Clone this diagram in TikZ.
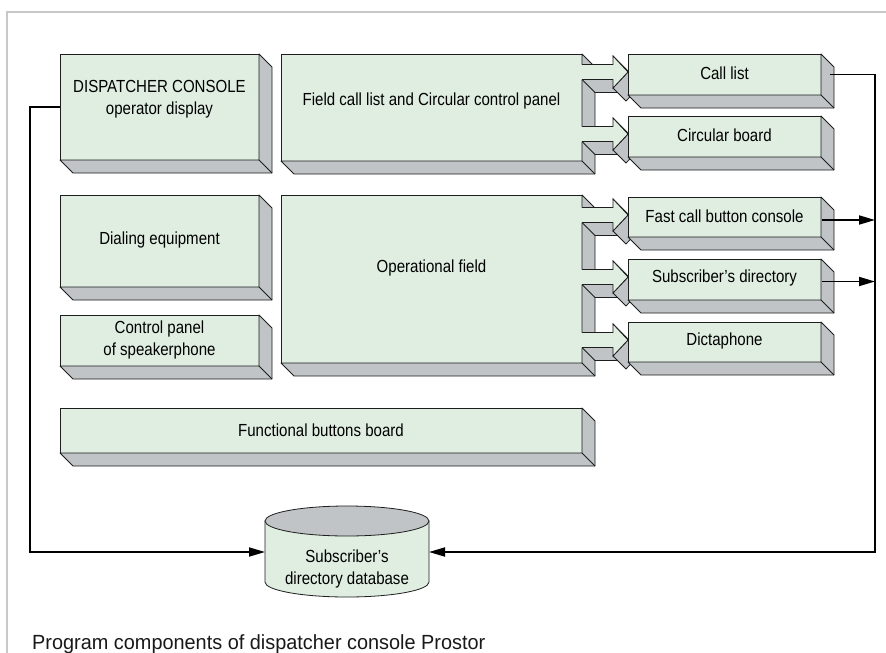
\documentclass[tikz,border=0pt]{standalone}
\usepackage{fontspec}
\setmainfont{Liberation Sans}[FakeStretch=0.86]
\newfontfamily\capfont{Liberation Sans}[FakeStretch=0.97]
\usetikzlibrary{arrows.meta,calc}
\definecolor{facec}{RGB}{224,238,226}
\definecolor{sidec}{RGB}{192,196,198}
\definecolor{edgec}{RGB}{30,30,30}
\definecolor{framec}{RGB}{200,200,200}
\tikzset{
  face/.style={fill=facec, draw=edgec, line width=0.8pt, inner sep=0pt, outer sep=0pt},
  side/.style={fill=sidec, draw=edgec, line width=0.8pt, line join=round},
  edge/.style={draw=edgec, line width=0.8pt},
  lbl/.style={font=\fontsize{17.5}{22}\selectfont, text=black, align=center, inner sep=0pt},
  caplbl/.style={font=\fontsize{20.5}{24}\selectfont\capfont, text=black!90, inner sep=0pt},
  conn/.style={draw=black, line width=1.8pt},
  tip/.style={-{Triangle[length=16pt,width=9pt]}},
}
\newcommand\tdbox[5]{%
  \node[face, anchor=north west, minimum width=#4pt, minimum height=#5pt] (#1) at (#2,#3) {};
  \path[side] (#1.north east) -- ++(13,13) -- ($(#1.south east)+(13,13)$) -- ($(#1.south west)+(13,13)$) -- (#1.south west) -- (#1.south east) -- cycle;
  \draw[edge] (#1.south east) -- ++(13,13);
}
\newcommand\busarrow[1]{%
  \path[side] (613,#1-16) -- (628,#1) -- (641,#1+13) -- (626,#1-3) -- cycle;
  \path[side] (582,#1+7.5) -- (613,#1+7.5) -- (626,#1+20.5) -- (595,#1+20.5) -- cycle;
  \path[side] (613,#1+16) -- (628,#1) -- (641,#1+13) -- (626,#1+29) -- cycle;
  \fill[facec] (578,#1-7.5) -- (613,#1-7.5) -- (613,#1-16) -- (628,#1) -- (613,#1+16) -- (613,#1+7.5) -- (578,#1+7.5) -- cycle;
  \draw[edge] (582,#1-7.5) -- (613,#1-7.5) -- (613,#1-16) -- (628,#1) -- (613,#1+16) -- (613,#1+7.5) -- (582,#1+7.5);
}
\begin{document}
\begin{tikzpicture}[x=1pt,y=-1pt]
\useasboundingbox (0,0) rectangle (886,653);
\fill[white] (0,0) rectangle (886,653);
\draw[framec, line width=2pt] (7,653) -- (7,12) -- (886,12);

% left and central boxes
\tdbox{dc}{60}{54}{199}{106}
\tdbox{fc}{281}{54}{301}{107}
\tdbox{de}{60}{195}{199}{92}
\tdbox{cp}{60}{315}{199}{51}
\tdbox{of}{281}{195}{301}{168}
\tdbox{fb}{60}{408}{522}{45}

% bus arrows
\busarrow{72}
\busarrow{134}
\busarrow{215}
\busarrow{277}
\busarrow{340}

% right boxes
\tdbox{cl}{628}{54}{193}{41}
\tdbox{cb}{628}{116}{193}{41}
\tdbox{fcb}{628}{197}{193}{40}
\tdbox{sd}{628}{259}{193}{41}
\tdbox{dp}{628}{322}{193}{40}

% labels
\node[lbl] (dc-t) at (159.5,99) {DISPATCHER CONSOLE\\operator display};
\node[lbl] (fc-t) at (431.5,101) {Field call list and Circular control panel};
\node[lbl] (de-t) at (159.5,240) {Dialing equipment};
\node[lbl] (cp-t) at (159.5,340) {Control panel\\of speakerphone};
\node[lbl] (of-t) at (431.5,268) {Operational field};
\node[lbl] (fb-t) at (321,430) {Functional buttons board};
\node[lbl] (cl-t) at (724.5,73) {Call list};
\node[lbl] (cb-t) at (724.5,135) {Circular board};
\node[lbl] (fcb-t) at (724.5,216) {Fast call button console};
\node[lbl] (sd-t) at (724.5,278) {Subscriber’s directory};
\node[lbl] (dp-t) at (724.5,341) {Dictaphone};

% database cylinder
\node[minimum width=164pt, minimum height=76pt, inner sep=0pt, outer sep=0pt] (db) at (347,552) {};
\path[face] (265,521) -- (265,582) arc[start angle=180, end angle=360, x radius=82pt, y radius=15pt] -- (429,521) -- cycle;
\path[side] (347,521) ellipse[x radius=82pt, y radius=15pt];
\node[lbl] (db-t) at (347,569) {Subscriber’s\\directory database};

% connectors
\coordinate (rl) at (875,74.5);
\draw[conn, tip] (dc.west) -- ++(-30,0) |- (db.west);
\draw[conn, tip] ($(cl.east)+(9,0)$) -- (rl) |- (db.east);
\draw[conn, tip] ($(fcb.east)+(1,3)$) -- ($(fcb.east -| rl)+(0,3)$);
\draw[conn, tip] ($(sd.east)+(1,2)$) -- ($(sd.east -| rl)+(0,2)$);

% caption
\node[caplbl, anchor=base west] (cap) at (32,649) {Program components of dispatcher console Prostor};
\end{tikzpicture}
\end{document}
